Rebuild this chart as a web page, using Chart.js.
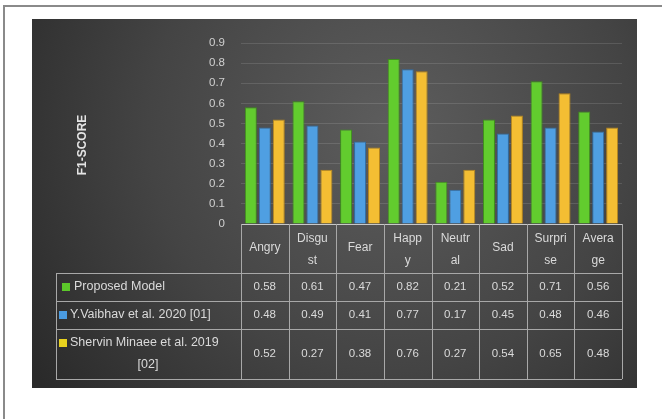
<!DOCTYPE html>
<html><head><meta charset="utf-8">
<script src="https://cdn.jsdelivr.net/npm/chart.js@4.4.1/dist/chart.umd.min.js"></script>
<style>html,body{margin:0;padding:0;background:#fff;}canvas{display:block}</style>
</head><body>
<canvas id="c" width="662" height="419"></canvas>
<script>
const categories = ['Angry','Disgust','Fear','Happy','Neutral','Sad','Surprise','Average'];
const headerLabels = [['Angry'],['Disgu','st'],['Fear'],['Happ','y'],['Neutr','al'],['Sad'],['Surpri','se'],['Avera','ge']];
const seriesNames = ['Proposed Model','Y.Vaibhav et al. 2020 [01]','Shervin Minaee et al. 2019 [02]'];
const seriesLabelLines = [['Proposed Model'],['Y.Vaibhav et al. 2020 [01]'],['Shervin Minaee et al. 2019','[02]']];
const proposedModel = [0.58,0.61,0.47,0.82,0.21,0.52,0.71,0.56];
const vaibhav2020   = [0.48,0.49,0.41,0.77,0.17,0.45,0.48,0.46];
const minaee2019    = [0.52,0.27,0.38,0.76,0.27,0.54,0.65,0.48];
const yTickValues = [0,0.1,0.2,0.3,0.4,0.5,0.6,0.7,0.8,0.9];
const yTitle = 'F1-SCORE';

const FONT = "'Liberation Sans', Arial, sans-serif";
const colors = ['#62cc2e','#4f9fe2','#f4be33'];
const borders = ['#3f8f1c','#2f6ea8','#b8861c'];
const swatch = ['#5cc82a','#4a9be0','#e8d21e'];
const seriesData = [proposedModel, vaibhav2020, minaee2019];

const bgPlugin = {
  id: 'bg',
  beforeDraw(chart) {
    const ctx = chart.ctx;
    ctx.save();
    ctx.fillStyle = '#ffffff';
    ctx.fillRect(0, 0, chart.width, chart.height);
    ctx.strokeStyle = '#8a8a8a';
    ctx.lineWidth = 2;
    ctx.beginPath();
    ctx.moveTo(4, chart.height); ctx.lineTo(4, 6); ctx.lineTo(chart.width, 6);
    ctx.stroke();
    const g = ctx.createRadialGradient(390, 130, 10, 390, 130, 430);
    g.addColorStop(0, '#5c5c5c');
    g.addColorStop(0.55, '#444444');
    g.addColorStop(1, '#2a2a2a');
    ctx.fillStyle = g;
    ctx.fillRect(32, 19, 605, 369);
    ctx.restore();
  }
};

const tablePlugin = {
  id: 'table',
  afterDraw(chart) {
    const ctx = chart.ctx;
    const xs = chart.scales.x;
    const area = chart.chartArea;
    const n = categories.length;
    const cw = (xs.right - xs.left) / n;
    const edges = [];
    for (let i = 0; i <= n; i++) edges.push(xs.left + i * cw);
    const top = area.bottom;
    const hB = top + 49;
    const rows = [hB, hB + 28, hB + 56, hB + 106];
    const tLeft = 56;
    ctx.save();
    ctx.strokeStyle = '#a8a8a8';
    ctx.lineWidth = 1;
    ctx.beginPath();
    rows.forEach(y => { ctx.moveTo(tLeft, y + 0.5); ctx.lineTo(edges[n], y + 0.5); });
    edges.forEach(x => { ctx.moveTo(Math.round(x) + 0.5, top); ctx.lineTo(Math.round(x) + 0.5, rows[3]); });
    ctx.moveTo(tLeft + 0.5, rows[0]); ctx.lineTo(tLeft + 0.5, rows[3]);
    ctx.stroke();

    ctx.fillStyle = '#dadada';
    ctx.font = '12px ' + FONT;
    ctx.textAlign = 'center';
    ctx.textBaseline = 'middle';
    headerLabels.forEach((lines, i) => {
      const cx = (edges[i] + edges[i + 1]) / 2;
      if (lines.length === 1) ctx.fillText(lines[0], cx, top + 24);
      else { ctx.fillText(lines[0], cx, top + 15); ctx.fillText(lines[1], cx, top + 37); }
    });
    ctx.font = '11.5px ' + FONT;
    seriesData.forEach((arr, r) => {
      const cy = (rows[r] + rows[r + 1]) / 2;
      arr.forEach((v, i) => {
        const cx = (edges[i] + edges[i + 1]) / 2;
        ctx.fillText(v.toFixed(2), cx, cy);
      });
    });
    ctx.font = '12.5px ' + FONT;
    seriesLabelLines.forEach((lines, r) => {
      const cy = (rows[r] + rows[r + 1]) / 2;
      const y1 = lines.length === 1 ? cy : cy - 11;
      ctx.fillStyle = swatch[r];
      ctx.fillRect(r === 0 ? 62 : 59, y1 - 4, 8, 8);
      ctx.fillStyle = '#dadada';
      ctx.textAlign = 'left';
      ctx.fillText(lines[0], r === 0 ? 74 : 70, y1);
      if (lines.length > 1) { ctx.textAlign = 'center'; ctx.fillText(lines[1], 148, cy + 11); }
    });

    ctx.translate(83, 145);
    ctx.rotate(-Math.PI / 2);
    ctx.textAlign = 'center';
    ctx.font = 'bold 12px ' + FONT;
    ctx.fillStyle = '#e4e4e4';
    ctx.fillText(yTitle, 0, 0);
    ctx.restore();
  }
};

new Chart(document.getElementById('c'), {
  type: 'bar',
  data: {
    labels: categories,
    datasets: seriesNames.map((name, i) => ({
      label: name,
      data: seriesData[i],
      backgroundColor: colors[i],
      borderColor: borders[i],
      borderWidth: 1,
      categoryPercentage: 0.88,
      barPercentage: 0.86
    }))
  },
  options: {
    responsive: false,
    animation: false,
    devicePixelRatio: 1,
    layout: { padding: { left: 205, right: 40, top: 43, bottom: 195 } },
    plugins: { legend: { display: false }, tooltip: { enabled: false } },
    scales: {
      x: {
        ticks: { display: false },
        grid: { display: false, drawTicks: false },
        border: { display: true, color: '#c8c8c8', width: 1 },
        afterFit: s => { s.height = 0; }
      },
      y: {
        min: 0, max: 0.9,
        afterBuildTicks: s => { s.ticks = yTickValues.map(v => ({ value: v })); },
        ticks: {
          color: '#d0d0d0', padding: 16,
          font: { size: 11.5, family: FONT },
          callback: v => String(Math.round(v * 10) / 10)
        },
        grid: { color: 'rgba(255,255,255,0.12)', drawTicks: false },
        border: { display: false },
        afterFit: s => { s.width = 36; }
      }
    }
  },
  plugins: [bgPlugin, tablePlugin]
});
</script>
</body></html>
